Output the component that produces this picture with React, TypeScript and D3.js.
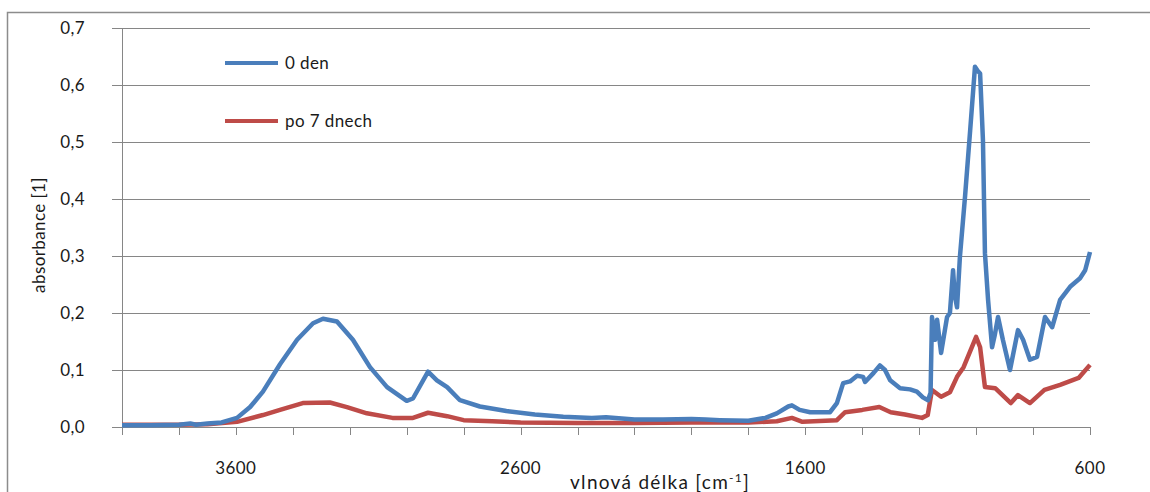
import React from "react";
import * as d3 from "d3";

// ---- data ----
const waveBlue = [
  4000, 3900, 3800, 3760, 3740, 3700, 3650, 3596, 3550, 3505, 3445, 3385, 3329, 3294, 3245, 3189, 3129, 3069, 3000, 2978,
  2925, 2894, 2858, 2813, 2743, 2650, 2550, 2450, 2350, 2300, 2200, 2100, 2000, 1950, 1900, 1800, 1740, 1700, 1660, 1647,
  1620, 1583, 1513, 1489, 1467, 1443, 1418, 1397, 1390, 1360, 1338, 1320, 1302, 1267, 1232, 1208, 1187, 1169, 1160, 1155,
  1144, 1137, 1123, 1102, 1092, 1081, 1075, 1067, 1057, 1039, 1021, 1004, 995, 986, 976, 969, 958, 944, 935, 923,
  906, 881, 853, 835, 811, 786, 758, 733, 705, 670, 635, 617, 600,
];
const absBlue = [
  0.003, 0.003, 0.004, 0.006, 0.004, 0.006, 0.008, 0.016, 0.035, 0.062, 0.11, 0.153, 0.182, 0.19, 0.185, 0.153, 0.105, 0.07, 0.046, 0.05,
  0.097, 0.082, 0.07, 0.047, 0.036, 0.028, 0.022, 0.018, 0.016, 0.017, 0.013, 0.013, 0.014, 0.013, 0.012, 0.011, 0.016, 0.024, 0.036, 0.038,
  0.03, 0.026, 0.026, 0.042, 0.077, 0.08, 0.09, 0.088, 0.079, 0.095, 0.108, 0.1, 0.082, 0.068, 0.066, 0.062, 0.052, 0.047, 0.06, 0.193,
  0.153, 0.188, 0.13, 0.193, 0.2, 0.275, 0.23, 0.21, 0.298, 0.404, 0.52, 0.632, 0.625, 0.62, 0.503, 0.305, 0.223, 0.14, 0.16, 0.193,
  0.153, 0.1, 0.17, 0.153, 0.118, 0.123, 0.193, 0.175, 0.223, 0.246, 0.261, 0.275, 0.307,
];

const waveRed = [
  4000, 3800, 3700, 3596, 3505, 3445, 3365, 3270, 3210, 3140, 3050, 2978, 2925, 2858, 2800, 2700, 2600, 2400, 2200, 2000,
  1800, 1700, 1647, 1610, 1489, 1460, 1400, 1340, 1300, 1250, 1190, 1170, 1155, 1123, 1092, 1067, 1044, 1000, 986, 969,
  933, 878, 853, 811, 760, 705, 640, 600,
];
const absRed = [
  0.004, 0.004, 0.005, 0.009, 0.021, 0.03, 0.042, 0.043, 0.035, 0.024, 0.016, 0.016, 0.025, 0.019, 0.012, 0.01, 0.008, 0.007, 0.007, 0.008,
  0.008, 0.01, 0.016, 0.009, 0.012, 0.026, 0.03, 0.035, 0.026, 0.022, 0.016, 0.021, 0.065, 0.053, 0.061, 0.088, 0.105, 0.158, 0.14, 0.07,
  0.068, 0.042, 0.056, 0.042, 0.065, 0.074, 0.086, 0.109,
];

const seriesNames = ["0 den", "po 7 dnech"];
const seriesColors = ["#4a7ebb", "#be4b48"];
const yTicks = [0, 0.1, 0.2, 0.3, 0.4, 0.5, 0.6, 0.7];
const xTickValues = d3.range(4000, 599, -200);
const xLabelValues = [3600, 2600, 1600, 600];
const yTitle = "absorbance [1]";

const W = 1150;
const H = 492;
const left = 122;
const right = 1090;
const top = 28;
const bottom = 427;
const FONT = "Lato, 'Open Sans', sans-serif";
const FS = 17;
const LS = 0.4;

export default function App() {
  const x = d3.scaleLinear().domain([4000, 600]).range([left, right]);
  const y = d3.scaleLinear().domain([0, 0.7]).range([bottom, top]);
  const line = d3
    .line<[number, number]>()
    .x((d) => x(d[0]))
    .y((d) => y(d[1]));
  const blue = waveBlue.map((w, i) => [w, absBlue[i]] as [number, number]);
  const red = waveRed.map((w, i) => [w, absRed[i]] as [number, number]);
  const fmt = (v: number) => v.toFixed(1).replace(".", ",");

  return (
    <svg
      width={W}
      height={H}
      style={{ position: "absolute", left: 0, top: 0, display: "block", background: "#fff" }}
      fontFamily={FONT}
      letterSpacing={LS}
    >
      <rect x={7.5} y={12.5} width={1160} height={500} fill="#fff" stroke="#8c8c8c" strokeWidth={1.5} />
      {/* gridlines + y ticks */}
      {yTicks.map((t) => (
        <g key={t}>
          <line x1={112} x2={right} y1={Math.round(y(t)) + 0.5} y2={Math.round(y(t)) + 0.5} stroke="#868686" strokeWidth={1} />
          <text x={85} y={y(t) + 6} textAnchor="end" fontSize={FS} fill="#1a1a1a">
            {fmt(t)}
          </text>
        </g>
      ))}
      {/* y axis */}
      <line x1={left + 0.5} x2={left + 0.5} y1={top} y2={bottom} stroke="#868686" strokeWidth={1} />
      {/* x ticks */}
      {xTickValues.map((t) => (
        <line key={t} x1={Math.round(x(t)) + 0.5} x2={Math.round(x(t)) + 0.5} y1={bottom} y2={bottom + 8} stroke="#868686" strokeWidth={1} />
      ))}
      {xLabelValues.map((t) => (
        <text key={t} x={x(t)} y={474} textAnchor="middle" fontSize={FS} fill="#1a1a1a">
          {t}
        </text>
      ))}
      <text x={570} y={489} fontSize={19} letterSpacing={1.3} fill="#1a1a1a">
        vlnová délka [cm<tspan dy={-7} fontSize={12}>-1</tspan>
        <tspan dy={7}>]</tspan>
      </text>
      <text transform={`translate(45,235) rotate(-90)`} textAnchor="middle" fontSize={FS} fill="#1a1a1a">
        {yTitle}
      </text>
      {/* series */}
      <path d={line(red) || ""} fill="none" stroke={seriesColors[1]} strokeWidth={4.5} strokeLinejoin="round" />
      <path d={line(blue) || ""} fill="none" stroke={seriesColors[0]} strokeWidth={4.5} strokeLinejoin="round" />
      {/* legend */}
      {seriesNames.map((n, i) => (
        <g key={n}>
          <line x1={225} x2={278} y1={63 + i * 58} y2={63 + i * 58} stroke={seriesColors[i]} strokeWidth={4} />
          <text x={285} y={69 + i * 58} fontSize={FS} fill="#1a1a1a">
            {n}
          </text>
        </g>
      ))}
    </svg>
  );
}
